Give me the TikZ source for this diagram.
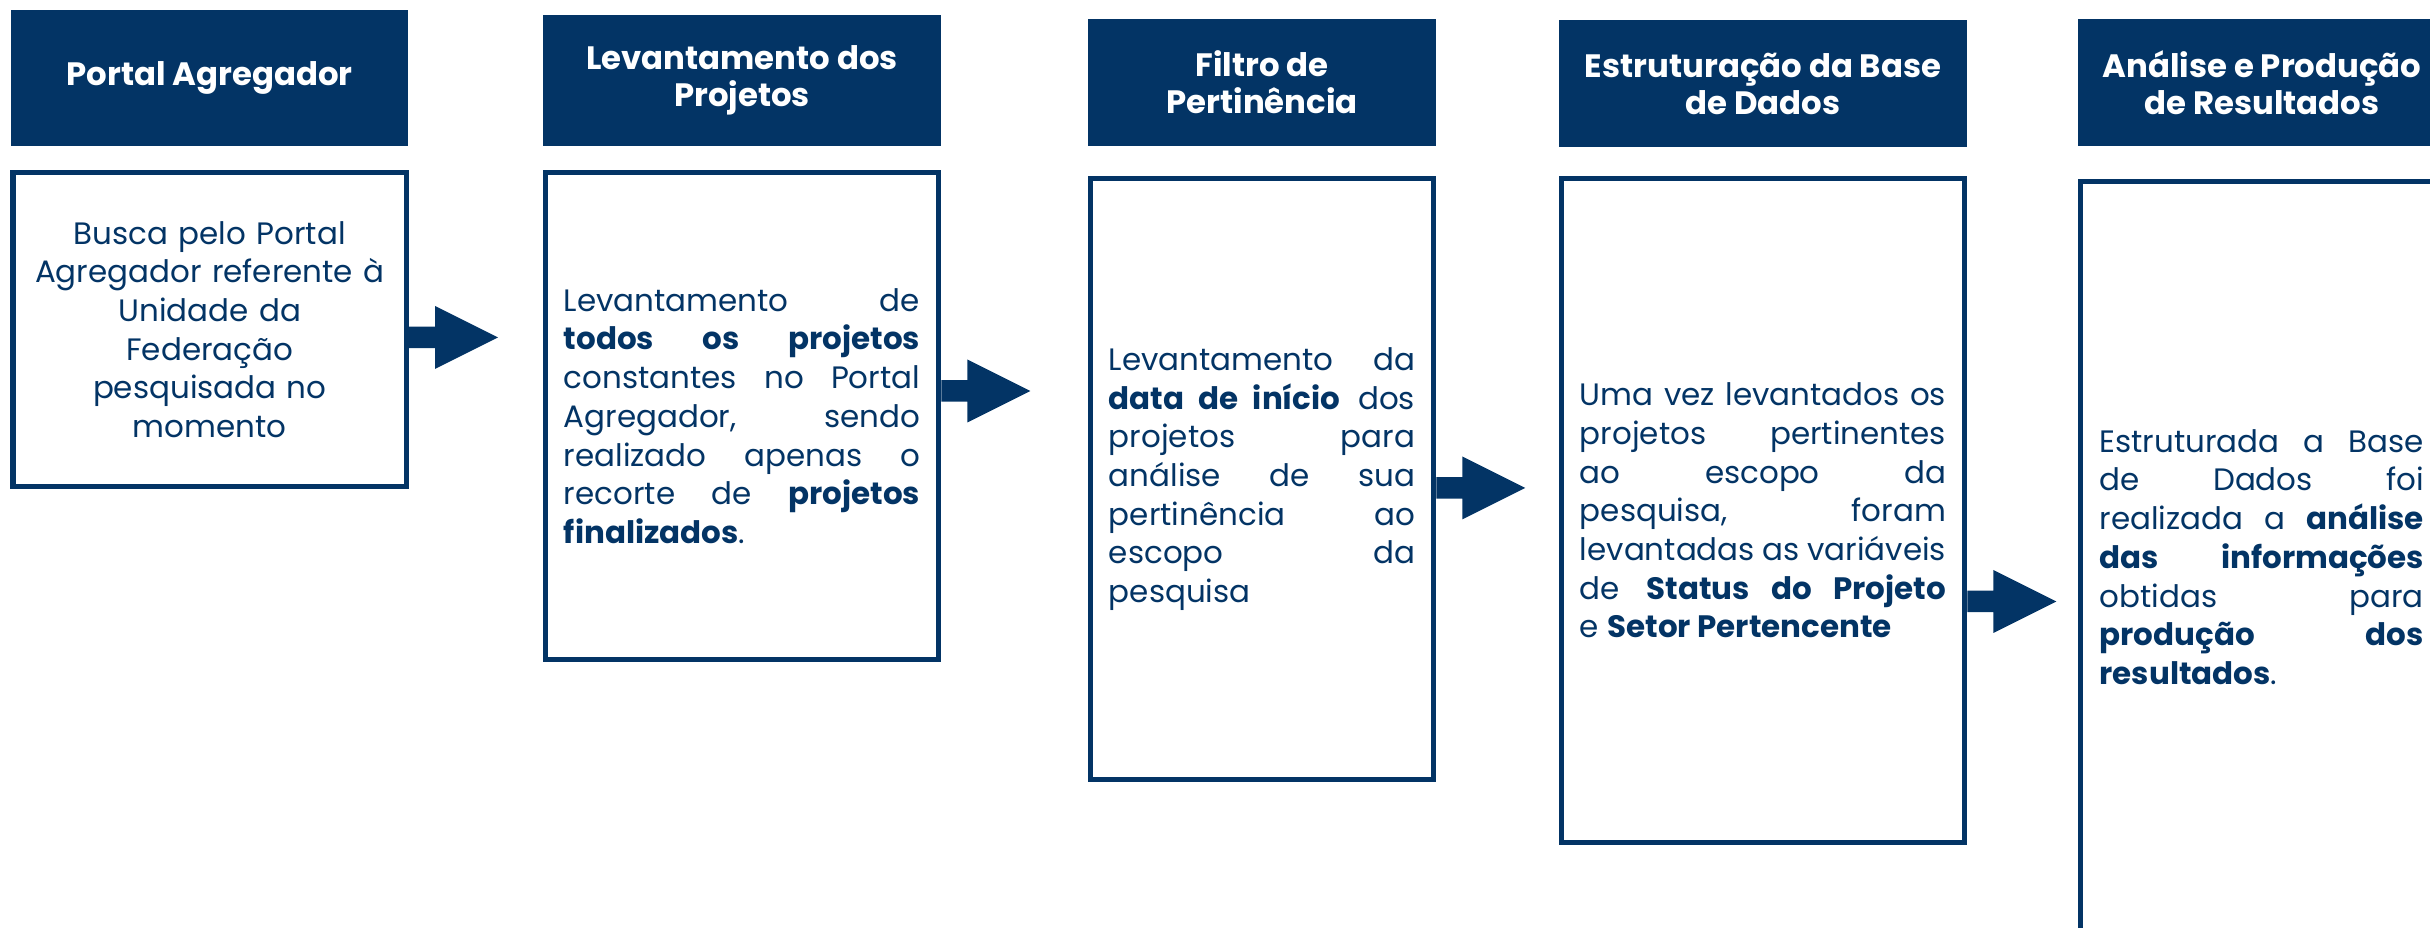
\documentclass[tikz,border=0pt]{standalone}
\usepackage{fontspec}
\setmainfont{Poppins}
\usetikzlibrary{calc}

\definecolor{azul}{RGB}{3,52,101}
\tolerance=10000
\hyphenpenalty=10000

\tikzset{
  cab/.style={fill=azul, text=white, inner sep=0pt, align=center,
    font=\bfseries\fontsize{9.2}{10.5}\selectfont},
  caixa/.style={draw=azul, line width=1.5pt, text=azul, inner ysep=0pt, inner xsep=0.185cm,
    font=\fontsize{8.8}{11}\selectfont},
  seta/.pic={\fill[azul] (0,-10.75) -- (26,-10.75) -- (26,-31.5) -- (89,0)
    -- (26,31.5) -- (26,10.75) -- (0,10.75) -- cycle;}
}

\begin{document}
\begin{tikzpicture}[x=0.01cm,y=-0.01cm]

\useasboundingbox (0,0) rectangle (2430,928);

\node[cab, minimum width=3.97cm, minimum height=1.36cm] (h1) at (209.5,78) {Portal Agregador};
\node[cab, minimum width=3.98cm, minimum height=1.31cm] (h2) at (742,80.5) {Levantamento dos\\ Projetos};
\node[cab, minimum width=3.48cm, minimum height=1.27cm] (h3) at (1262,82.5) {Filtro de\\ Pertinência};
\node[cab, minimum width=4.08cm, minimum height=1.27cm] (h4) at (1763,83.5) {Estruturação da Base\\ de Dados};
\node[cab, minimum width=3.68cm, minimum height=1.27cm] (h5) at (2262,82.5) {Análise e Produção\\ de Resultados};

\node[caixa, align=center, text width=3.56cm, minimum width=3.92cm, minimum height=3.14cm] (b1) at (209.75,329.5)
  {Busca pelo Portal\\ Agregador referente à\\ Unidade da\\ Federação\\ pesquisada no\\ momento};
\node[caixa, align=justify, text width=3.56cm, minimum width=3.93cm, minimum height=4.87cm] (b2) at (742,416)
  {Levantamento de\linebreak \textbf{todos os projetos}\linebreak constantes no Portal\linebreak Agregador, sendo\linebreak
   realizado apenas o\linebreak recorte de \textbf{projetos}\linebreak \textbf{finalizados}.};
\node[caixa, align=justify, text width=3.06cm, minimum width=3.43cm, minimum height=6.01cm] (b3) at (1262,479)
  {Levantamento da\linebreak \textbf{data de início} dos\linebreak projetos para\linebreak análise de sua\linebreak
   pertinência ao\linebreak escopo da\linebreak pesquisa};
\node[caixa, align=justify, text width=3.66cm, minimum width=4.03cm, minimum height=6.64cm] (b4) at (1763,510.5)
  {Uma vez levantados os\linebreak projetos pertinentes\linebreak ao escopo da\linebreak pesquisa, foram\linebreak
   levantadas as variáveis\linebreak de \textbf{Status do Projeto}\linebreak e \textbf{Setor Pertencente}};
\node[caixa, align=justify, text width=3.24cm, minimum width=3.625cm, minimum height=7.5cm] (b5) at (2261.75,557)
  {Estruturada a Base\linebreak de Dados foi\linebreak realizada a \textbf{análise}\linebreak \textbf{das informações}\linebreak
   obtidas para\linebreak \textbf{produção dos}\linebreak \textbf{resultados}.};

\coordinate (s1) at ($(b1.east)+(0,8)$);
\coordinate (s2) at ($(b2.east)+(0,-25)$);
\coordinate (s3) at ($(b3.east)+(0,9)$);
\coordinate (s4) at ($(b4.east)+(0,91)$);
\pic at (s1) {seta};
\pic at (s2) {seta};
\pic at (s3) {seta};
\pic at (s4) {seta};

\end{tikzpicture}
\end{document}
